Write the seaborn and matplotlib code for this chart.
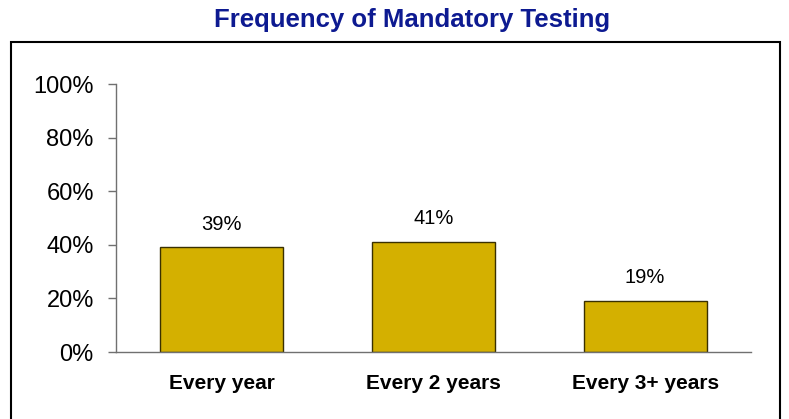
import matplotlib
matplotlib.use("Agg")
import matplotlib.pyplot as plt
from matplotlib.patches import Rectangle
from matplotlib.ticker import PercentFormatter
import pandas as pd
import seaborn as sns

categories = ["Every year", "Every 2 years", "Every 3+ years"]
shares = [39, 41, 19]
value_labels = ["39%", "41%", "19%"]

df = pd.DataFrame({"Frequency": categories, "Share": shares})

sns.set_style("white")
plt.rcParams["font.family"] = ["Liberation Sans", "DejaVu Sans"]
plt.rcParams["text.color"] = "black"
plt.rcParams["xtick.color"] = "black"
plt.rcParams["ytick.color"] = "black"

fig = plt.figure(figsize=(7.89, 4.19), dpi=100)
ax = fig.add_axes([116 / 789, 1 - 352 / 419, 635 / 789, 268 / 419])

sns.barplot(data=df, x="Frequency", y="Share", color="#D4B000", saturation=1,
            edgecolor="#3A3000", linewidth=1, width=0.58, ax=ax)

ax.set_ylim(0, 100)
ax.set_yticks([0, 20, 40, 60, 80, 100])
ax.yaxis.set_major_formatter(PercentFormatter(decimals=0))
ax.set_xlabel("")
ax.set_ylabel("")

for s in ["top", "right"]:
    ax.spines[s].set_visible(False)
for s in ["left", "bottom"]:
    ax.spines[s].set_color("#707070")
    ax.spines[s].set_linewidth(1)

ax.tick_params(axis="y", left=True, length=6, width=1, color="#707070",
               labelcolor="black", labelsize=17, pad=10)
ax.tick_params(axis="x", bottom=False, labelcolor="black", labelsize=15, pad=12)
for lbl in ax.get_xticklabels():
    lbl.set_fontweight("bold")

ax.bar_label(ax.containers[0], labels=value_labels, padding=10, fontsize=14.5,
             color="black")

fig.text(412 / 789, 1 - 20 / 419, "Frequency of Mandatory Testing",
         ha="center", va="center", fontsize=18.5, fontweight="bold", color="#0D1A91")

frame = Rectangle((11 / 789, -0.1), (780 - 11) / 789, 1.1 - 42 / 419,
                  transform=fig.transFigure, fill=False, edgecolor="black",
                  linewidth=1.5, clip_on=False)
fig.patches.append(frame)

fig.savefig("out.png", dpi=100)
